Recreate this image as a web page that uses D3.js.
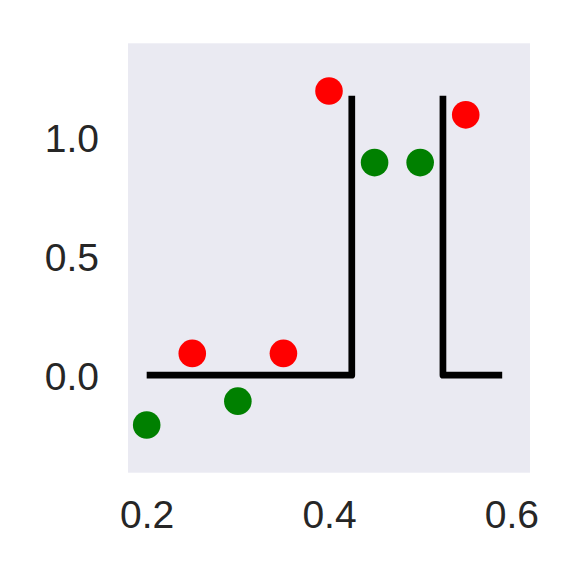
<!DOCTYPE html>
<html>
<head>
<meta charset="utf-8">
<script src="https://cdn.jsdelivr.net/npm/d3@7"></script>
<style>
  body { margin: 0; background: #fff; }
  .tick text { font-family: "Liberation Sans", Arial, sans-serif; fill: #262626; }
</style>
</head>
<body>
<script>
// Size of the svg and the plot area inside it
const w = 581;
const h = 581;
const margin = { top: 43.3, right: 51, bottom: 108.3, left: 128 };

// Data points (x, y, colour group)
const pointX = [0.2, 0.25, 0.3, 0.35, 0.4, 0.45, 0.5, 0.55];
const pointY = [-0.2, 0.1, -0.1, 0.1, 1.2, 0.9, 0.9, 1.1];
const pointGroup = ["green", "red", "green", "red", "red", "green", "green", "red"];

// Step line (null = gap)
const lineX = [0.2, 0.425, 0.425, null, 0.525, 0.525, 0.59];
const lineY = [0.009, 0.009, 1.18, null, 1.18, 0.009, 0.009];

// Tick labels
const xTicks = [0.2, 0.4, 0.6];
const yTicks = [0.0, 0.5, 1.0];

const svg = d3.select("body").append("svg").attr("width", w).attr("height", h);

const x = d3.scaleLinear().domain([0.1795, 0.6205]).range([margin.left, w - margin.right]);
const y = d3.scaleLinear().domain([-0.4, 1.4]).range([h - margin.bottom, margin.top]);

// plot background
svg.append("rect")
  .attr("x", margin.left)
  .attr("y", margin.top)
  .attr("width", w - margin.left - margin.right)
  .attr("height", h - margin.top - margin.bottom)
  .attr("fill", "#EAEAF2");

// axes, no ticks or domain lines
const xAxis = svg.append("g")
  .attr("transform", "translate(0," + (h - margin.bottom) + ")")
  .call(d3.axisBottom(x).tickValues(xTicks).tickFormat(d3.format(".1f")).tickSize(0).tickPadding(28));
const yAxis = svg.append("g")
  .attr("transform", "translate(" + margin.left + ",0)")
  .call(d3.axisLeft(y).tickValues(yTicks).tickFormat(d3.format(".1f")).tickSize(0).tickPadding(29));
svg.selectAll(".domain").remove();
svg.selectAll(".tick text").attr("font-size", 39);

// step line
const lineData = lineX.map(function (d, i) {
  return { x: d, y: lineY[i] };
});
svg.append("path")
  .datum(lineData)
  .attr("d", d3.line()
    .defined(function (d) { return d.x !== null; })
    .x(function (d) { return x(d.x); })
    .y(function (d) { return y(d.y); }))
  .attr("fill", "none")
  .attr("stroke", "black")
  .attr("stroke-width", 6.7)
  .attr("stroke-linejoin", "round");

// points
svg.selectAll("circle")
  .data(pointX)
  .enter()
  .append("circle")
  .attr("cx", function (d) { return x(d); })
  .attr("cy", function (d, i) { return y(pointY[i]); })
  .attr("r", 13.8)
  .attr("fill", function (d, i) {
    return pointGroup[i] === "red" ? "#FF0000" : "#008000";
  });
</script>
</body>
</html>
